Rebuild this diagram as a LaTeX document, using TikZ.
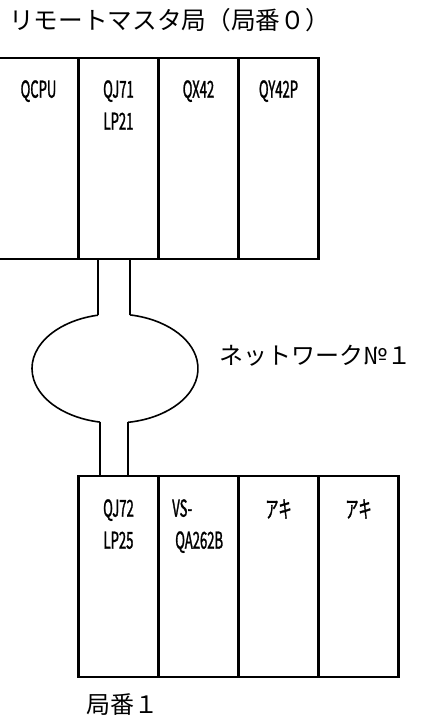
\documentclass[tikz,border=0pt]{standalone}
\usepackage{fontspec}
\usetikzlibrary{positioning,shapes.geometric}
\newfontfamily\jpfont{Noto Sans CJK JP}
\newfontfamily\modfont[FakeStretch=0.56,FakeBold=1.2]{Noto Sans CJK JP}

\tikzset{
  modbox/.style={draw,rectangle,anchor=north west,minimum width=60pt,
    minimum height=150.75pt,inner sep=0pt,outer sep=0pt,line width=1.6pt},
  modtext/.style={anchor=north,inner sep=0pt,align=center,
    font=\modfont\fontsize{17.5}{24}\selectfont},
  caption/.style={anchor=west,inner sep=0pt,font=\jpfont\fontsize{18}{20}\selectfont},
  netring/.style={ellipse,minimum width=124.5pt,minimum height=81.75pt,inner sep=0pt},
  cable/.style={line width=1.2pt}
}

\begin{document}
\begin{tikzpicture}[x=0.75pt,y=0.75pt]
        \useasboundingbox (0,0) rectangle (425,-717);
        % remote master station
        \node[caption,font=\jpfont\fontsize{18.5}{20}\selectfont] (ttl) at (9,-20) {リモートマスタ局（局番０）};
        \foreach \k/\lab in {1/QCPU,2/{QJ71\\LP21},3/QX42,4/QY42P}
          {
            \node[modbox] (m\k) at ({-1.5+80*(\k-1)},-58) {};
            \node[modtext] (mt\k) at ([shift={(0,-22)}]m\k.north) {\lab};
          }
        % network ring
        \node[netring] (net) at (115,-368.5) {};
        \coordinate (ct1) at ([shift={(101.8:83 and 54.5)}]net.center);
        \coordinate (ct2) at ([shift={(79.6:83 and 54.5)}]net.center);
        \coordinate (cb1) at ([shift={(259.6:83 and 54.5)}]net.center);
        \coordinate (cb2) at ([shift={(-81:83 and 54.5)}]net.center);
        \draw[cable] (ct1) arc[start angle=101.8,end angle=259.6,x radius=83,y radius=54.5];
        \draw[cable] (cb2) arc[start angle=-81,end angle=79.6,x radius=83,y radius=54.5];
        \node[caption] (nlab) at (219,-356) {ネットワーク№１};
        % station 1
        \foreach \k/\lab in {1/{QJ72\\LP25},2/{},3/アキ,4/アキ}
          {
            \node[modbox] (s\k) at ({78.5+80*(\k-1)},-476) {};
            \node[modtext] (st\k) at ([shift={(0,-23)}]s\k.north) {\lab};
          }
        \node[modtext,anchor=north west,align=left] (st2) at ([shift={(13.5,-23)}]s2.north west) {VS-\\\hspace{2.25pt}QA262B};
        \node[caption] (slab) at (86,-705) {局番１};
        % cables
        \draw[cable] (ct1) -- (ct1 |- m2.south);
        \draw[cable] (ct2) -- (ct2 |- m2.south);
        \draw[cable] (cb1) -- (cb1 |- s1.north);
        \draw[cable] (cb2) -- (cb2 |- s1.north);
      \end{tikzpicture}
\end{document}
